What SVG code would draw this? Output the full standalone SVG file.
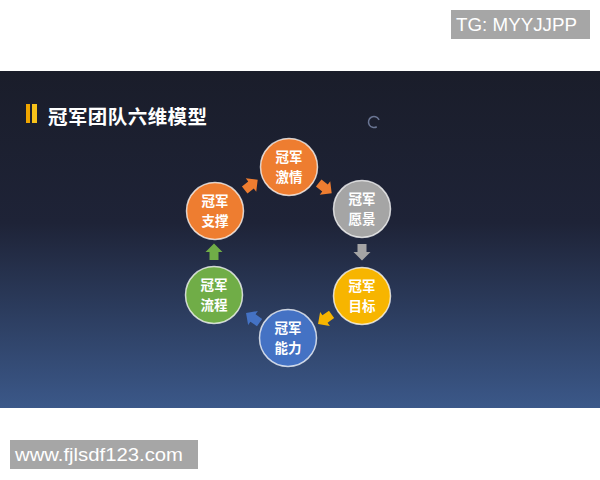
<svg xmlns="http://www.w3.org/2000/svg" width="600" height="480" viewBox="0 0 600 480">
  <defs>
    <linearGradient id="bg" x1="0" y1="0" x2="0" y2="1">
      <stop offset="0" stop-color="#1a1d2a"/>
      <stop offset="0.45" stop-color="#1e2337"/>
      <stop offset="1" stop-color="#3b5889"/>
    </linearGradient>
    <path id="arr" d="M-8,-4.5 L0,-4.5 L0,-8.5 L8.5,0 L0,8.5 L0,4.5 L-8,4.5 Z"/>
    <style>
      .node circle { stroke: #ffffff; stroke-opacity: 0.75; stroke-width: 1.5; }
      .node text { font-family: "Noto Sans CJK SC", "Noto Sans", sans-serif; font-weight: bold; font-size: 13.5px; fill: #ffffff; text-anchor: middle; }
      .wm { font-family: "Liberation Sans", Arial, sans-serif; font-size: 18.5px; fill: #ffffff; }
    </style>
  </defs>
  <rect x="0" y="0" width="600" height="480" fill="#ffffff"/>
  <rect x="0" y="71" width="600" height="337" fill="url(#bg)"/>

  <g id="title">
    <rect x="26" y="104" width="4" height="19" fill="#f0a500"/>
    <rect x="32" y="104" width="5" height="19" fill="#f7c21a"/>
    <text x="48" y="124" font-family="Noto Sans CJK SC, sans-serif" font-size="19.5" font-weight="bold" fill="#ffffff" textLength="159" lengthAdjust="spacing">冠军团队六维模型</text>
  </g>
  <circle cx="374" cy="122" r="5.5" fill="none" stroke="#6a7593" stroke-width="1.5" stroke-dasharray="26 9" transform="rotate(60 374 122)"/>

  <g id="connectors">
    <use href="#arr" fill="#ee7d30" transform="translate(251,185) rotate(-38)"/>
    <use href="#arr" fill="#ee7d30" transform="translate(325,188) rotate(38)"/>
    <use href="#arr" fill="#a5a5a5" transform="translate(362,252) rotate(90)"/>
    <use href="#arr" fill="#f7b500" transform="translate(325,319) rotate(145)"/>
    <use href="#arr" fill="#4472c4" transform="translate(253,318) rotate(215)"/>
    <use href="#arr" fill="#70ad47" transform="translate(214,252) rotate(-90)"/>
  </g>

  <g id="n-jiqing" class="node">
    <circle cx="289" cy="167" r="28.5" fill="#ee7d30"/>
    <text x="289" y="161.5">冠军</text>
    <text x="289" y="181.5">激情</text>
  </g>
  <g id="n-yuanjing" class="node">
    <circle cx="362" cy="209" r="28.5" fill="#a5a5a5"/>
    <text x="362" y="203.5">冠军</text>
    <text x="362" y="223.5">愿景</text>
  </g>
  <g id="n-mubiao" class="node">
    <circle cx="362" cy="296" r="28.5" fill="#f7b500"/>
    <text x="362" y="290.5">冠军</text>
    <text x="362" y="310.5">目标</text>
  </g>
  <g id="n-nengli" class="node">
    <circle cx="288" cy="338" r="28.5" fill="#4472c4"/>
    <text x="288" y="332.5">冠军</text>
    <text x="288" y="352.5">能力</text>
  </g>
  <g id="n-liucheng" class="node">
    <circle cx="214" cy="295" r="28.5" fill="#70ad47"/>
    <text x="214" y="289.5">冠军</text>
    <text x="214" y="309.5">流程</text>
  </g>
  <g id="n-zhicheng" class="node">
    <circle cx="215" cy="211" r="28.5" fill="#ee7d30"/>
    <text x="215" y="205.5">冠军</text>
    <text x="215" y="225.5">支撑</text>
  </g>

  <g id="tg">
    <rect x="451" y="10" width="139" height="29" fill="#a6a6a6"/>
    <text class="wm" x="456" y="31" textLength="121" lengthAdjust="spacingAndGlyphs">TG: MYYJJPP</text>
  </g>
  <g id="www">
    <rect x="10" y="440" width="188" height="29" fill="#a6a6a6"/>
    <text class="wm" x="15" y="461" textLength="168" lengthAdjust="spacingAndGlyphs">www.fjlsdf123.com</text>
  </g>
</svg>
